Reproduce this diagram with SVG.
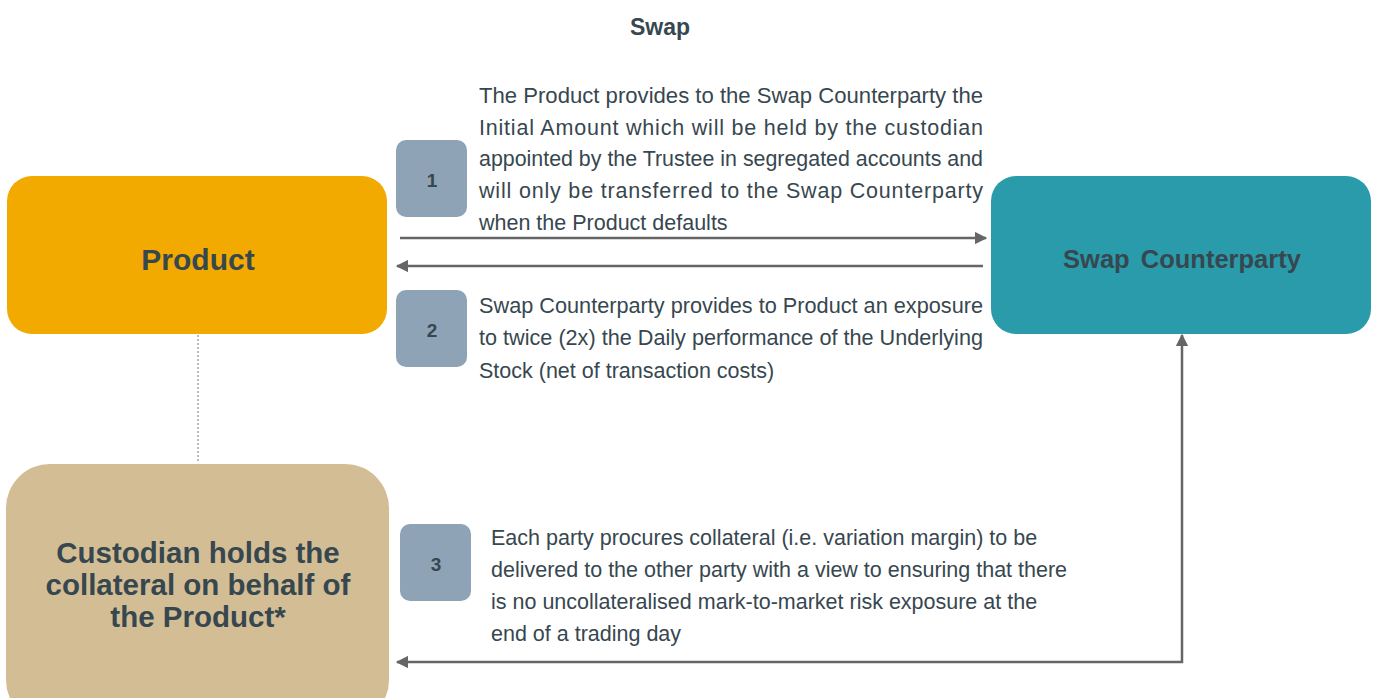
<svg xmlns="http://www.w3.org/2000/svg" width="1376" height="698" viewBox="0 0 1376 698">
<defs>
<style>
.t{font-family:"Liberation Sans",Arial,sans-serif;font-size:21.5px;fill:#37474f}
.b{font-family:"Liberation Sans",Arial,sans-serif;font-weight:bold;fill:#37474f;text-anchor:middle}
.badge{fill:#8fa3b7}
.conn{stroke:#666;stroke-width:2.5;fill:none}
</style>
<marker id="ah" viewBox="0 0 10 10" refX="9" refY="5" markerWidth="5" markerHeight="5" orient="auto-start-reverse" markerUnits="strokeWidth">
<path d="M0,0 L10,5 L0,10 z" fill="#666"/>
</marker>
</defs>
<rect width="1376" height="698" fill="#fff"/>
<text class="b" x="660" y="35" font-size="23">Swap</text>
<g id="connectors">
<line x1="198" y1="335" x2="198" y2="463" stroke="#bbb" stroke-width="2" stroke-dasharray="2 2"/>
<line class="conn" x1="400" y1="238" x2="986" y2="238" marker-end="url(#ah)"/>
<line class="conn" x1="983" y1="266" x2="397" y2="266" marker-end="url(#ah)"/>
<path class="conn" d="M397,662 H1182 V335" marker-start="url(#ah)" marker-end="url(#ah)"/>
</g>
<g id="product">
<rect x="7" y="176" width="380" height="158" rx="25" fill="#f2aa00"/>
<text class="b" x="198" y="270" font-size="30">Product</text>
</g>
<g id="swap-counterparty">
<rect x="991" y="176" width="380" height="158" rx="25" fill="#2a9baa"/>
<text class="b" x="1182" y="268" font-size="25.5" word-spacing="4">Swap Counterparty</text>
</g>
<g id="custodian">
<rect x="6" y="464" width="383" height="260" rx="44" fill="#d3bd94"/>
<text class="b" font-size="29.5"><tspan x="198" y="563">Custodian holds the</tspan><tspan x="198" y="595">collateral on behalf of</tspan><tspan x="198" y="627">the Product*</tspan></text>
</g>
<g id="step1">
<rect class="badge" x="396" y="140" width="71" height="77" rx="10"/>
<text class="b" x="432" y="187" font-size="19">1</text>
<text class="t">
<tspan x="479" y="103" textLength="504" lengthAdjust="spacingAndGlyphs">The Product provides to the Swap Counterparty the</tspan>
<tspan x="479" y="135" textLength="504" lengthAdjust="spacing">Initial Amount which will be held by the custodian</tspan>
<tspan x="479" y="166" textLength="504" lengthAdjust="spacingAndGlyphs">appointed by the Trustee in segregated accounts and</tspan>
<tspan x="479" y="198" textLength="504" lengthAdjust="spacing">will only be transferred to the Swap Counterparty</tspan>
<tspan x="479" y="230">when the Product defaults</tspan>
</text>
</g>
<g id="step2">
<rect class="badge" x="396" y="290" width="71" height="77" rx="10"/>
<text class="b" x="432" y="337" font-size="19">2</text>
<text class="t">
<tspan x="479" y="313" textLength="504" lengthAdjust="spacingAndGlyphs">Swap Counterparty provides to Product an exposure</tspan>
<tspan x="479" y="345" textLength="504" lengthAdjust="spacingAndGlyphs">to twice (2x) the Daily performance of the Underlying</tspan>
<tspan x="479" y="378">Stock (net of transaction costs)</tspan>
</text>
</g>
<g id="step3">
<rect class="badge" x="400" y="524" width="71" height="77" rx="10"/>
<text class="b" x="436" y="571" font-size="19">3</text>
<text class="t">
<tspan x="491" y="545">Each party procures collateral (i.e. variation margin) to be</tspan>
<tspan x="491" y="577">delivered to the other party with a view to ensuring that there</tspan>
<tspan x="491" y="609">is no uncollateralised mark-to-market risk exposure at the</tspan>
<tspan x="491" y="641">end of a trading day</tspan>
</text>
</g>
</svg>
